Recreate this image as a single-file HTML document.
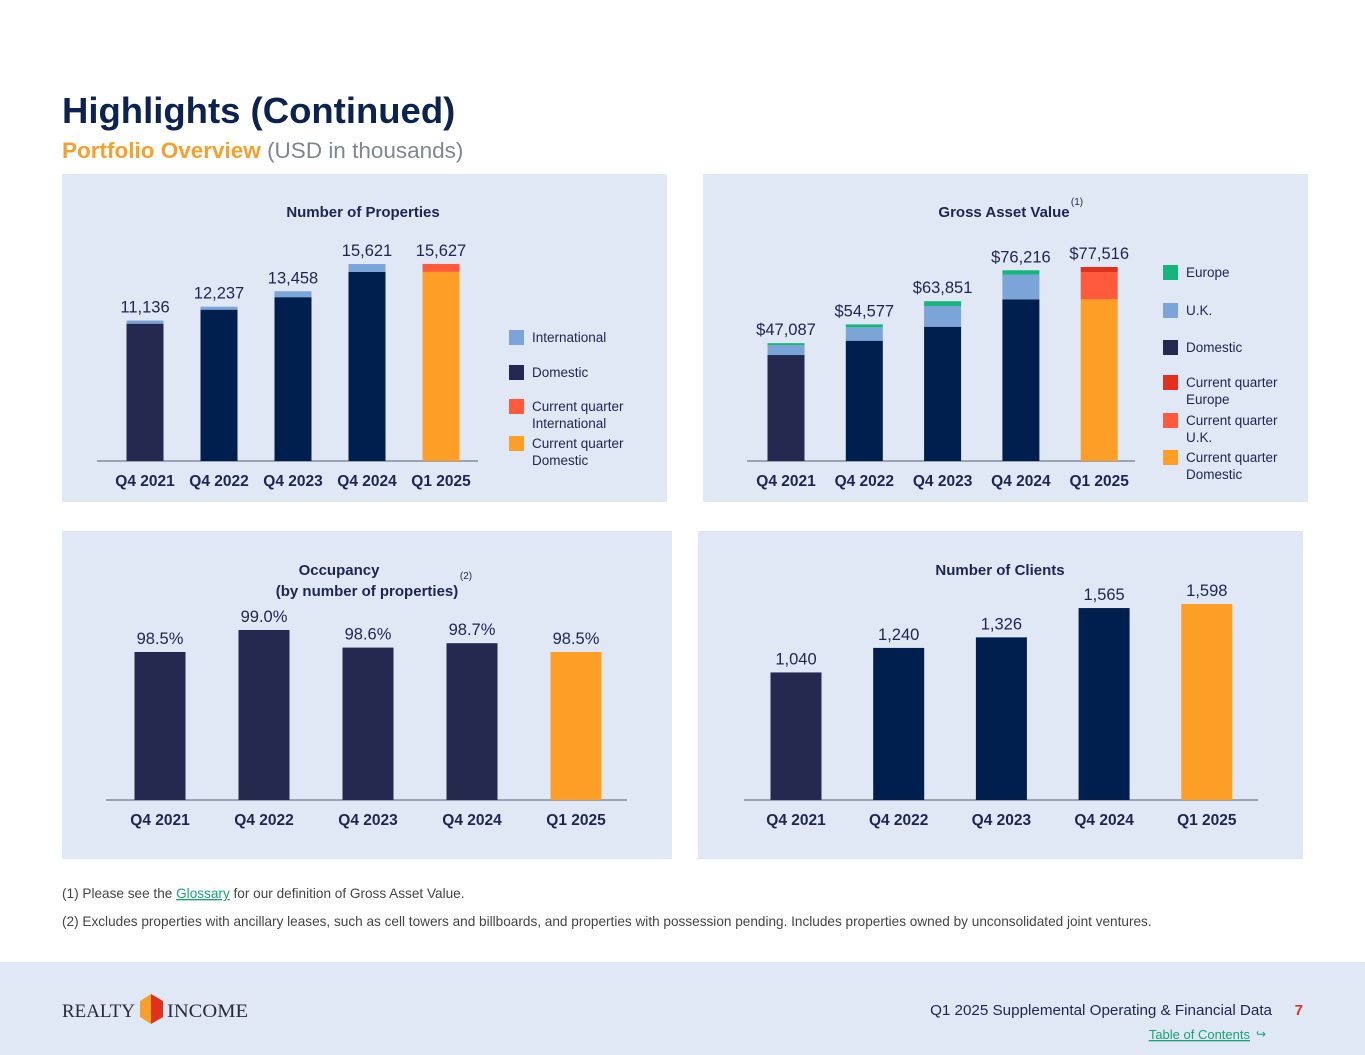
<!DOCTYPE html>
<html><head><meta charset="utf-8"><style>
body{margin:0;background:#fff;font-family:"Liberation Sans",sans-serif}
svg{display:block}
text{font-family:"Liberation Sans",sans-serif}
text.serif{font-family:"Liberation Serif",serif}
</style></head><body>
<svg id="page" width="1365" height="1055" viewBox="0 0 1365 1055">
<rect x="0" y="0" width="1365" height="1055" fill="#fff"/>
<text x="62" y="123" font-size="36.5" font-weight="bold" fill="#0c2350">Highlights (Continued)</text>
<text x="62" y="158" font-size="22.5" fill="#7e8693"><tspan font-weight="bold" fill="#f7a02c">Portfolio Overview</tspan> (USD in thousands)</text>
<rect x="62" y="174" width="605" height="328" fill="#e1e8f5"/>
<rect x="703" y="174" width="605" height="328" fill="#e1e8f5"/>
<rect x="62" y="531" width="610" height="328" fill="#e1e8f5"/>
<rect x="698" y="531" width="605" height="328" fill="#e1e8f5"/>
<g id="charts"></g>
<text x="62" y="898" font-size="13.6" fill="#444">(1)  Please see the <tspan fill="#17a374" text-decoration="underline">Glossary</tspan> for our definition of Gross Asset Value.</text>
<text x="62" y="926" font-size="13.6" fill="#444">(2)  Excludes properties with ancillary leases, such as cell towers and billboards, and properties with possession pending. Includes properties owned by unconsolidated joint ventures.</text>
<rect x="0" y="962" width="1365" height="93" fill="#e1e8f5"/>
<g>
<text class="serif" x="62" y="1017" font-size="19" fill="#2a2a3a" textLength="73" lengthAdjust="spacingAndGlyphs">REALTY</text>
<polygon points="140,1001 151,994 151,1024 140,1017" fill="#f7a02c"/>
<polygon points="151,994 163,1001 163,1017 151,1024" fill="#e0301e"/>
<text class="serif" x="167" y="1017" font-size="19" fill="#2a2a3a" textLength="81" lengthAdjust="spacingAndGlyphs">INCOME</text>
</g>
<text x="1272" y="1015" font-size="15.2" text-anchor="end" fill="#1d2550">Q1 2025 Supplemental Operating &amp; Financial Data</text>
<text x="1303" y="1015" font-size="15" font-weight="bold" text-anchor="end" fill="#e0301e">7</text>
<text x="1250" y="1039" font-size="13" text-anchor="end" fill="#17a374" text-decoration="underline">Table of Contents</text>
<text x="1256" y="1038" font-size="12" fill="#17a374">↪</text>
</svg>
<script>
const NS="http://www.w3.org/2000/svg";
const quarters=["Q4 2021","Q4 2022","Q4 2023","Q4 2024","Q1 2025"];
const propTotals=["11,136","12,237","13,458","15,621","15,627"];
const propDomestic=[10890,12000,12990,14990,14995];
const propIntl=[246,237,468,631,632];
const gavLabels=["$47,087","$54,577","$63,851","$76,216","$77,516"];
const gavDomestic=[42350,48060,53650,64600,64600];
const gavUK=[3950,5350,8270,9830,10900];
const gavEurope=[787,1167,1931,1786,2016];
const occValues=[98.5,99.0,98.6,98.7,98.5];
const occLabels=["98.5%","99.0%","98.6%","98.7%","98.5%"];
const clientValues=[1040,1240,1326,1565,1598];
const clientLabels=["1,040","1,240","1,326","1,565","1,598"];
const g=document.getElementById('charts');
function el(tag,attrs,txt){const e=document.createElementNS(NS,tag);for(const k in attrs)e.setAttribute(k,attrs[k]);if(txt!==undefined)e.textContent=txt;g.appendChild(e);return e;}
function chart(o){
  const n=quarters.length;
  const xc=i=>o.x0+i*o.step;
  const ax=el('line',{x1:o.ax1,x2:o.ax2,y1:o.base,y2:o.base,stroke:'#9aa3b3','stroke-width':2});
  
  
  for(let i=0;i<n;i++){
    let y=o.base;
    o.stacks.forEach((s,si)=>{
      const h=o.scale(s.vals[i]);
      const r=el('rect',{x:xc(i)-o.bw/2,y:y-h,width:o.bw,height:h,fill:(i===n-1?s.cur:(i===0&&s.first?s.first:s.col))});
      
      
      y-=h;
    });
    const t=el('text',{x:xc(i),y:y-8,'font-size':16.5,'text-anchor':'middle',fill:'#1d2550'},o.labels[i]);
    
    
    const q=el('text',{x:xc(i),y:o.base+25,'font-size':15.5,'font-weight':'bold','text-anchor':'middle',fill:'#1d2550'},quarters[i]);
    
    
  }
}
const navy='#001f4f',dark='#25284f';
chart({id:'properties',x0:145,step:74,bw:37,base:461,ax1:97,ax2:478,scale:v=>v*197/15621,labels:propTotals,
  stacks:[{name:'domestic',vals:propDomestic,col:navy,first:dark,cur:'#fd9f27'},{name:'international',vals:propIntl,col:'#7ba4d8',cur:'#ff5a3c'}]});
chart({id:'gav',x0:786,step:78.3,bw:37,base:461,ax1:747,ax2:1135,scale:v=>v*194/77516,labels:gavLabels,
  stacks:[{name:'domestic',vals:gavDomestic,col:navy,first:dark,cur:'#fd9f27'},{name:'uk',vals:gavUK,col:'#7ba4d8',cur:'#ff5a3c'},{name:'europe',vals:gavEurope,col:'#17b57e',cur:'#e0301e'}]});
chart({id:'occupancy',x0:160,step:104,bw:51,base:800,ax1:106,ax2:627,scale:v=>(v-95.136)*44,labels:occLabels,
  stacks:[{name:'occupancy',vals:occValues,col:dark,cur:'#fd9f27'}]});
chart({id:'clients',x0:796,step:102.7,bw:51,base:800,ax1:744,ax2:1258,scale:v=>v*196/1598,labels:clientLabels,
  stacks:[{name:'clients',vals:clientValues,col:navy,first:dark,cur:'#fd9f27'}]});
function txt(x,y,s,attrs,name){const t=el('text',Object.assign({x:x,y:y,fill:'#1d2550'},attrs),s);return t;}
const B={'font-size':15,'font-weight':'bold','text-anchor':'middle'};
txt(363,217,'Number of Properties',B,'properties-title');
txt(1004,217,'Gross Asset Value',B,'gav-title');
txt(1077,205,'(1)',{'font-size':10,'text-anchor':'middle'},'gav-footnote-ref');
txt(339,575,'Occupancy',B,'occupancy-title');
txt(367,596,'(by number of properties)',B,'occupancy-subtitle');
txt(466,579,'(2)',{'font-size':10,'text-anchor':'middle'},'occupancy-footnote-ref');
txt(1000,575,'Number of Clients',B,'clients-title');
function legend(x,items,id){items.forEach((it,i)=>{const r=el('rect',{x:x,y:it[2],width:15,height:15,fill:it[0]});
 it[1].forEach((line,j)=>txt(x+23,it[2]+12+j*17,line,{'font-size':13.5},id+'-legend-label-'+i+'-'+j));});}
legend(509,[['#7ba4d8',['International'],330],[dark,['Domestic'],365],['#ff5a3c',['Current quarter','International'],399],['#fd9f27',['Current quarter','Domestic'],436]],'properties');
legend(1163,[['#17b57e',['Europe'],265],['#7ba4d8',['U.K.'],303],[dark,['Domestic'],340],['#e0301e',['Current quarter','Europe'],375],['#ff5a3c',['Current quarter','U.K.'],413],['#fd9f27',['Current quarter','Domestic'],450]],'gav');
</script>
</body></html>
